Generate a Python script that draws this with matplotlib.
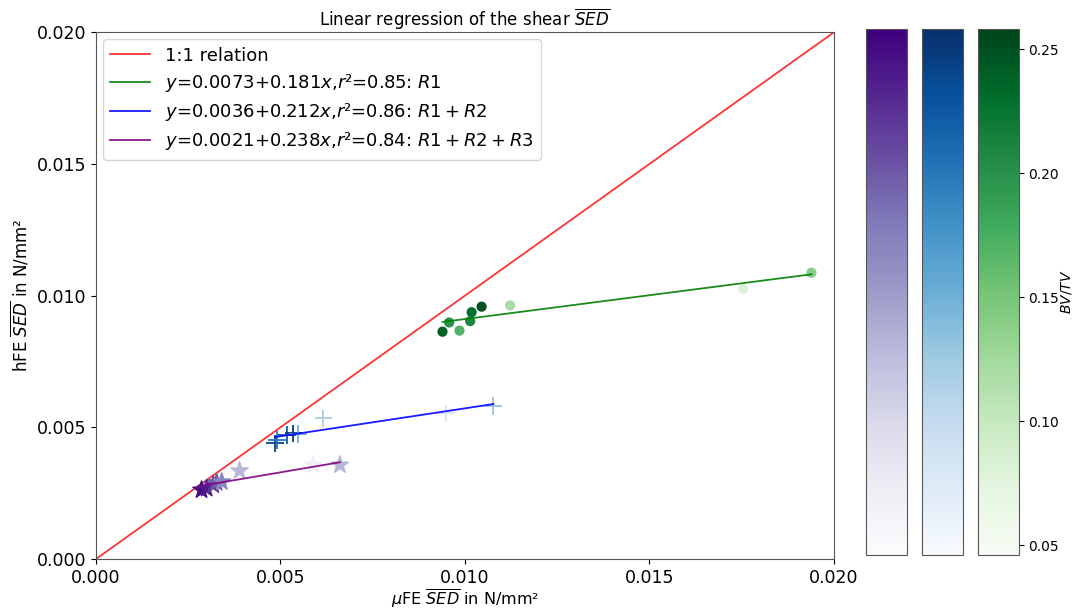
import numpy as np
import matplotlib
matplotlib.use('Agg')
import matplotlib.pyplot as plt
from matplotlib import cm, colors as mcolors

# R1 (green dots)
r1_x = [0.00939, 0.00957, 0.00985, 0.01014, 0.01018, 0.01045, 0.01122, 0.01754, 0.01939]
r1_y = [0.00863, 0.00898, 0.00867, 0.00903, 0.00937, 0.00958, 0.00963, 0.01026, 0.01087]
r1_bvtv = [0.24, 0.20, 0.17, 0.21, 0.23, 0.25, 0.12, 0.08, 0.14]

# R1 + R2 (blue crosses)
r2_x = [0.00485, 0.00490, 0.00517, 0.00535, 0.00547, 0.00616, 0.00948, 0.01077]
r2_y = [0.00439, 0.00452, 0.00471, 0.00477, 0.00474, 0.00534, 0.00553, 0.00581]
r2_bvtv = [0.24, 0.20, 0.22, 0.25, 0.15, 0.12, 0.08, 0.13]

# R1 + R2 + R3 (purple stars)
r3_x = [0.00286, 0.00300, 0.00318, 0.00327, 0.00341, 0.00389, 0.00589, 0.00661]
r3_y = [0.00262, 0.00268, 0.00281, 0.00290, 0.00293, 0.00335, 0.00357, 0.00357]
r3_bvtv = [0.25, 0.24, 0.22, 0.20, 0.17, 0.13, 0.07, 0.13]

# regression parameters from the legend
intercepts = [0.0073, 0.0036, 0.0021]
slopes = [0.181, 0.212, 0.238]
r2_vals = [0.85, 0.86, 0.84]
set_names = ['$R1$', '$R1 + R2$', '$R1 + R2 + R3$']

vmin, vmax = 0.046, 0.258

fig = plt.figure(figsize=(10.75, 6.08), dpi=100)
ax = fig.add_axes([0.0893, 0.0806, 0.6865, 0.8664])

norm = mcolors.Normalize(vmin=vmin, vmax=vmax)

ax.plot([0, 0.02], [0, 0.02], color='red', lw=1.3, alpha=0.8, label='1:1 relation')

ax.scatter(r1_x, r1_y, c=r1_bvtv, cmap='Greens', norm=norm, marker='o', s=40, zorder=3)
ax.scatter(r2_x, r2_y, c=r2_bvtv, cmap='Blues', norm=norm, marker='+', s=160, lw=1.3, zorder=3)
ax.scatter(r3_x, r3_y, c=r3_bvtv, cmap='Purples', norm=norm, marker='*', s=170, zorder=3)

line_colors = ['green', 'blue', 'purple']
for xs, b, m, r, name, col in zip([r1_x, r2_x, r3_x], intercepts, slopes, r2_vals, set_names, line_colors):
    xx = np.array([min(xs), max(xs)])
    lab = '$y$=%.4f+%.3f$x$,$r$²=%.2f: %s' % (b, m, r, name)
    ax.plot(xx, b + m * xx, color=col, lw=1.3, alpha=0.9, label=lab, zorder=4)

ax.set_xlim(0, 0.02)
ax.set_ylim(0, 0.02)
ax.set_xticks(np.arange(0, 0.0201, 0.005))
ax.set_yticks(np.arange(0, 0.0201, 0.005))
ax.xaxis.set_major_formatter(plt.FormatStrFormatter('%.3f'))
ax.yaxis.set_major_formatter(plt.FormatStrFormatter('%.3f'))
ax.tick_params(labelsize=12.5)
ax.set_xlabel(r'$\mu$FE $\overline{SED}$ in N/mm²', fontsize=11.5, labelpad=0)
ax.set_ylabel(r'hFE $\overline{SED}$ in N/mm²', fontsize=12)
ax.set_title(r'Linear regression of the shear $\overline{SED}$', fontsize=12, pad=4)
for sp in ax.spines.values():
    sp.set_edgecolor('#555555')
ax.legend(loc='upper left', fontsize=13, handlelength=2.2, borderaxespad=0.4, labelspacing=0.4)

# three colorbars
cb_lefts = [0.8056, 0.8577, 0.9098]
cmaps = ['Purples', 'Blues', 'Greens']
for i, (left, cmap) in enumerate(zip(cb_lefts, cmaps)):
    cax = fig.add_axes([left, 0.0872, 0.038, 0.8648])
    cb = fig.colorbar(cm.ScalarMappable(norm=norm, cmap=cmap), cax=cax)
    cb.outline.set_edgecolor('#555555')
    if i < 2:
        cb.set_ticks([])
    else:
        cb.set_ticks([0.05, 0.10, 0.15, 0.20, 0.25])
        cb.ax.yaxis.set_major_formatter(plt.FormatStrFormatter('%.2f'))
        cb.ax.tick_params(labelsize=10, pad=3)
        cb.set_label('$BV/TV$', fontsize=10)
        cb.ax.yaxis.set_label_coords(1.98, 0.5)

fig.savefig('out.png', dpi=100)
